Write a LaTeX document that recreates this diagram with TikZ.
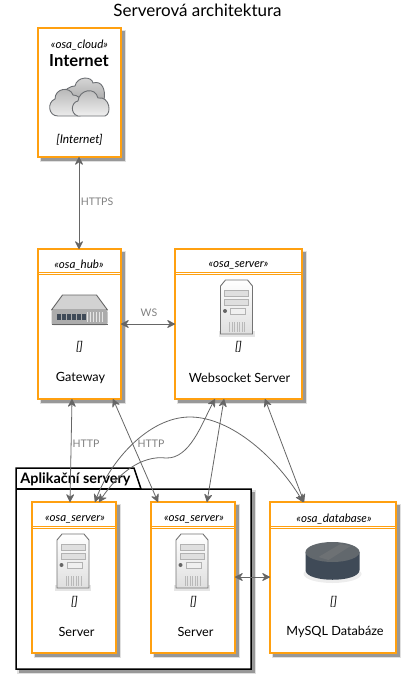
\documentclass[tikz,border=0pt]{standalone}
\usepackage{fontspec}
\setmainfont{Lato}
\usetikzlibrary{arrows.meta,calc}
\definecolor{osa}{HTML}{FFA010}
\definecolor{conn}{HTML}{666666}
\definecolor{lbl}{HTML}{808080}
\definecolor{slate}{HTML}{3F4A57}
\newcommand{\softshadow}[4]{%
  \fill[black,opacity=.12] (#1+1.5,#2+1.5) rectangle (#1+#3+5,#2+#4+5);
  \fill[black,opacity=.32] (#1+3,#2+3) rectangle (#1+#3+3.5,#2+#4+3.5);
}
\tikzset{
  osabox/.style={draw=osa,line width=1.7pt,fill=white,anchor=north west,inner sep=0pt,outer sep=0pt,minimum width=#1},
  rule/.style={draw=osa,line width=.9pt},
  stereo/.style={font=\itshape\fontsize{11.6}{13}\selectfont,inner sep=0pt},
  name text/.style={font=\fontsize{12.7}{15}\selectfont,inner sep=0pt},
  empty tag/.style={font=\itshape\fontsize{12}{14}\selectfont,inner sep=0pt},
  conlabel/.style={text=lbl,font=\fontsize{10.5}{13}\selectfont,inner sep=0pt},
  link/.style={draw=conn,line width=.8pt,{Stealth[length=9pt,width=9pt,inset=3.2pt,round]}-{Stealth[length=9pt,width=9pt,inset=3.2pt,round]}},
  pics/servericon/.style={code={
    \fill[black,opacity=.10] (-18,51) rectangle (18,57);
    \draw[draw=gray!90!black,line width=.9pt,top color=white,bottom color=gray!25] (-16,6)--(-11,0)--(11,0)--(16,6)--(16,54)--(-16,54)--cycle;
    \foreach \yy in {10,19}{\draw[draw=gray!60,fill=gray!25,line width=.5pt] (-12,\yy) rectangle (12,\yy+6);}
    \draw[draw=gray!60,fill=gray!12,line width=.5pt] (-6,28) rectangle (9,34);
    \fill[gray!80!black] (-11.5,31) circle (2pt);
    \foreach \xx in {-7,-4.5,-2,.5,3,5.5,8}{\draw[gray!55,line width=.6pt] (\xx,42) -- (\xx,52);}
  }},
  pics/hubicon/.style={code={
    \draw[draw=gray!80!black,line width=.9pt,fill=gray!35,line join=round] (-28,15)--(-17,0)--(17,0)--(28,15)--cycle;
    \fill[gray!65,rounded corners=2pt] (-28,30) -- (-28,15) -- (28,15) -- (28,30) -- cycle;
    \draw[gray!80!black,line width=.9pt] (-28,29.5) -- (28,29.5);
    \foreach \xx in {-23,-18,-13,-8,-3,2}{\fill[slate] (\xx,19) rectangle (\xx+4,25);}
    \foreach \xx in {7,10,13,16,19,22}{\fill[gray!20] (\xx,17) rectangle (\xx+1.6,27);}
  }},
  pics/dbicon/.style={code={
    \fill[black,opacity=.07] (0,33) ellipse (29 and 9);
    \fill[slate] (-27,11) -- (-27,29) .. controls (-27,42) and (27,42) .. (27,29) -- (27,11) -- cycle;
    \fill[gray!55!slate] (0,11) ellipse (27 and 10);
    \fill[gray!80!slate,opacity=.7] (-14,16) -- (8,3) -- (18,5) -- (-4,19) -- cycle;
  }},
  cl/.style={draw=gray!70!slate,line width=.9pt},
  pics/cloudicon/.style={code={
    \path[cl,top color=gray!30,bottom color=gray!65] (-16,22) .. controls (-18,10) and (-8,8) .. (-5,8) .. controls (-3,-2) and (12,-2) .. (13,5) .. controls (22,2) and (26,12) .. (24,22) -- cycle;
    \path[cl,top color=gray!60,bottom color=gray!15] (-22,38) .. controls (-32,38) and (-33,24) .. (-25,21) .. controls (-25,10) and (-10,8) .. (-7,17) .. controls (2,17) and (6,30) .. (0,38) -- cycle;
    \path[cl,top color=gray!60,bottom color=gray!12] (-2,38) .. controls (-10,36) and (-9,24) .. (-2,23) .. controls (-1,12) and (15,8) .. (18,20) .. controls (30,18) and (32,36) .. (25,38) -- cycle;
  }}
}
\begin{document}
\begin{tikzpicture}[x=1pt,y=-1pt]
\path[use as bounding box] (0,0) rectangle (407,675);
\node[inner sep=0pt,font=\fontsize{17}{20}\selectfont] (title) at (197.5,10) {Serverová architektura};

% package
\fill[black,opacity=.12] (17,490) rectangle (256,674);
\fill[black,opacity=.32] (19,492) rectangle (254.5,672.5);
\path[draw=black,line width=1.5pt,fill=white] (16,489) -- (16,468) -- (134,468) -- (141,489) -- (251,489) -- (251,669) -- (16,669) -- cycle;
\draw[black,line width=1.5pt] (16,489) -- (141,489);
\node[inner sep=0pt,font=\bfseries\fontsize{14.4}{17}\selectfont] (pkg) at (75.5,479) {Aplikační servery};

% boxes
\softshadow{38}{28}{83}{129}
\softshadow{38}{249}{83}{150}
\softshadow{175}{249}{127}{150}
\softshadow{32}{502}{84}{151}
\softshadow{151}{502}{84}{151}
\softshadow{270}{502}{126}{151}
\node[osabox=83pt,minimum height=129pt] (inet) at (38,28) {};
\node[osabox=83pt,minimum height=150pt] (gw) at (38,249) {};
\node[osabox=127pt,minimum height=150pt] (ws) at (175,249) {};
\node[osabox=84pt,minimum height=151pt] (s1) at (32,502) {};
\node[osabox=84pt,minimum height=151pt] (s2) at (151,502) {};
\node[osabox=126pt,minimum height=151pt] (db) at (270,502) {};

\foreach \n/\yy in {gw/23,ws/23,s1/24,s2/24,db/24}{
  \draw[rule] ($(\n.north west)+(0,\yy)$) -- ($(\n.north east)+(0,\yy)$);
  \draw[rule] ($(\n.north west)+(0,\yy+2.5)$) -- ($(\n.north east)+(0,\yy+2.5)$);
}

% internet
\node[stereo] (t1) at (79.5,45) {«osa\_cloud»};
\node[inner sep=0pt,font=\bfseries\fontsize{16.6}{19}\selectfont] (t2) at (79,61) {Internet};
\pic at (80,78) {cloudicon};
\node[empty tag] (t3) at (79.5,140) {[Internet]};

% gateway
\node[stereo] (t4) at (79,265.5) {«osa\_hub»};
\pic at (79.5,295) {hubicon};
\node[empty tag] (t5) at (79.5,347) {[]};
\node[name text] (t6) at (80.5,378) {Gateway};

% websocket
\node[stereo] (t7) at (238.5,265.5) {«osa\_server»};
\pic at (236.5,280) {servericon};
\node[empty tag] (t8) at (238.5,347) {[]};
\node[name text] (t9) at (239.5,378) {Websocket Server};

% servers
\node[stereo] (t10) at (75,519.5) {«osa\_server»};
\pic at (73,534) {servericon};
\node[empty tag] (t11) at (74.5,602) {[]};
\node[name text] (t12) at (76.5,632) {Server};

\node[stereo] (t13) at (194,519.5) {«osa\_server»};
\pic at (192,534) {servericon};
\node[empty tag] (t14) at (193.5,602) {[]};
\node[name text] (t15) at (195.5,632) {Server};

\node[stereo] (t16) at (334,519.5) {«osa\_database»};
\pic at (332.5,541) {dbicon};
\node[empty tag] (t17) at (333.5,602) {[]};
\node[name text] (t18) at (335,632) {MySQL Databáze};

% connectors
\draw[link] ($(inet.south west)+(41,0)$) -- ($(gw.north west)+(41,0)$);
\draw[link] ($(gw.north east)+(0,75)$) -- ($(ws.north west)+(0,75)$);
\draw[link] ($(gw.south west)+(34,0)$) -- ($(s1.north west)+(38,0)$);
\draw[link] ($(gw.south west)+(75,0)$) -- ($(s2.north west)+(7,0)$);
\draw[link] ($(ws.south west)+(40,0)$) .. controls ($(ws.south west)+(27,24)$) and ($(ws.south west)+(15,60)$) .. (166,458) .. controls (141,455) and (118,474) .. ($(s1.north west)+(67,0)$);
\draw[link] ($(s1.north west)+(63,0)$) .. controls (110,462) and (148,417) .. (190,417) .. controls (232,417) and (278,460) .. ($(db.north west)+(33,0)$);
\draw[link] ($(ws.south west)+(49,0)$) -- ($(s2.north west)+(56,0)$);
\draw[link] ($(ws.south west)+(90,0)$) -- ($(db.north west)+(34,0)$);
\draw[link] ($(s2.north east)+(0,75)$) -- ($(db.north west)+(0,75)$);

% labels
\node[conlabel] (l1) at (97,202) {HTTPS};
\node[conlabel] (l2) at (149,313) {WS};
\node[conlabel] (l3) at (86,444) {HTTP};
\node[conlabel] (l4) at (151,444) {HTTP};
\end{tikzpicture}
\end{document}
